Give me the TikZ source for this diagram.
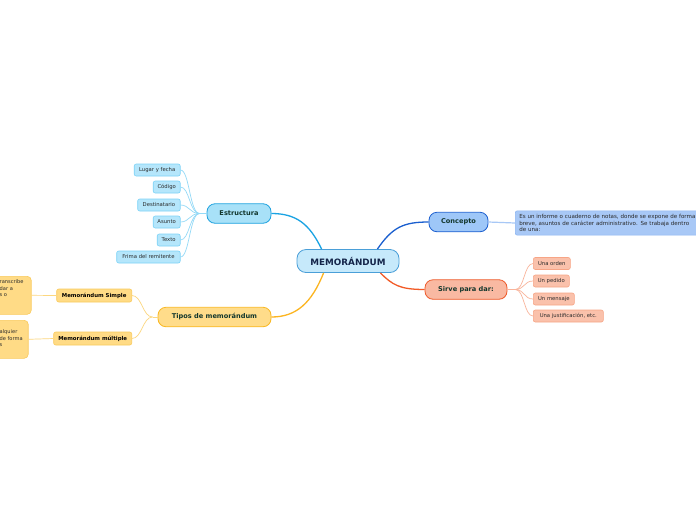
\documentclass[tikz,border=0pt]{standalone}
\usepackage{fontspec}
\setmainfont{DejaVu Sans}
\definecolor{mainfill}{HTML}{C6E9FB}
\definecolor{mainborder}{HTML}{4A9FD8}
\definecolor{maintext}{HTML}{14254A}
\definecolor{topictext}{HTML}{12362C}
\definecolor{childtext}{HTML}{2A2A2A}
\definecolor{estfill}{HTML}{A8E1F8}
\definecolor{estborder}{HTML}{1EA2DF}
\definecolor{estline}{HTML}{1AA3E3}
\definecolor{estcfill}{HTML}{B5E6FB}
\definecolor{estcborder}{HTML}{7DD3F7}
\definecolor{estcline}{HTML}{94DAF7}
\definecolor{concfill}{HTML}{9EC7F8}
\definecolor{concborder}{HTML}{1D60D0}
\definecolor{concline}{HTML}{1A5FCF}
\definecolor{cnotefill}{HTML}{A8C8F6}
\definecolor{cnoteborder}{HTML}{8DB6F2}
\definecolor{sirfill}{HTML}{F9B9A2}
\definecolor{sirborder}{HTML}{EE5A2A}
\definecolor{sirline}{HTML}{F25A26}
\definecolor{sircfill}{HTML}{FAC1AB}
\definecolor{sircborder}{HTML}{F7A586}
\definecolor{sircline}{HTML}{F9B49B}
\definecolor{tipfill}{HTML}{FFDC8A}
\definecolor{tipborder}{HTML}{F9B822}
\definecolor{tipline}{HTML}{FCB520}
\definecolor{tipcfill}{HTML}{FFDB86}
\definecolor{tipcborder}{HTML}{F9CA5C}
\definecolor{tipcline}{HTML}{FCD77F}
\begin{document}
\begin{tikzpicture}[x=1pt,y=-1pt,
  mainbox/.style={draw=mainborder, fill=mainfill, rounded corners=9pt, line width=0.8pt,
    minimum width=102pt, minimum height=23pt, inner sep=0pt, text=maintext,
    font=\bfseries\fontsize{8.8}{10}\selectfont},
  topic/.style={rounded corners=8pt, line width=0.8pt, inner sep=0pt, minimum height=19.5pt,
    text=topictext, font=\bfseries\fontsize{6.6}{8}\selectfont},
  childbox/.style={rounded corners=2pt, line width=0.6pt, inner sep=0pt, minimum height=12pt,
    text=childtext, font=\fontsize{5.3}{6}\selectfont, anchor=east},
  estc/.style={childbox, fill=estcfill, draw=estcborder},
  sirc/.style={childbox, fill=sircfill, draw=sircborder, anchor=west},
  tipc/.style={childbox, fill=tipcfill, draw=tipcborder, minimum height=13pt,
    font=\bfseries\fontsize{5.4}{6}\selectfont, text=black},
  notetext/.style={inner sep=0pt, align=left, text=childtext,
    font=\fontsize{5.1}{6.6}\selectfont},
  bigline/.style={line width=1.3pt},
  smallline/.style={line width=0.7pt}
]
\useasboundingbox (0,0) rectangle (696,520);
\clip (0,0) rectangle (696,520);
\fill[white] (0,0) rectangle (696,520);

% central
\node[mainbox] (main) at (348,261) {MEMORÁNDUM};

% topics
\node[topic, fill=estfill, draw=estborder, minimum width=64pt] (est) at (239,213.5) {Estructura};
\node[topic, fill=concfill, draw=concborder, minimum width=59pt] (conc) at (458.5,222) {Concepto};
\node[topic, fill=sirfill, draw=sirborder, minimum width=82pt] (sir) at (466,289.5) {Sirve para dar:};
\node[topic, fill=tipfill, draw=tipborder, minimum width=113pt] (tip) at (214.5,317) {Tipos de memorándum};

% main connectors
\draw[bigline, estline] ([xshift=25pt]main.north west) .. controls +(-12,-25) and +(25,0) .. (est.east);
\draw[bigline, concline] ([xshift=-22pt]main.north east) .. controls +(15,-22) and +(-25,0) .. (conc.west);
\draw[bigline, sirline] ([xshift=-19pt]main.south east) .. controls +(12,12) and +(-25,0) .. (sir.west);
\draw[bigline, tipline] ([xshift=27pt]main.south west) .. controls +(-12,30) and +(25,0) .. (tip.east);

% Estructura children
\node[estc, minimum width=46pt] (e1) at (180.5,170) {Lugar y fecha};
\node[estc, minimum width=27pt] (e2) at (180.5,187) {Código};
\node[estc, minimum width=42.5pt] (e3) at (180.5,205) {Destinatario};
\node[estc, minimum width=27pt] (e4) at (180.5,222) {Asunto};
\node[estc, minimum width=23pt] (e5) at (180.5,240) {Texto};
\node[estc, minimum width=63.5pt] (e6) at (180.5,257) {Frima del remitente};
\coordinate (ej) at ([xshift=-7pt]est.west);
\draw[smallline, estcline] (est.west) -- (ej);
\foreach \c in {e1,e2,e3,e4,e5,e6}
  \draw[smallline, estcline] (ej) .. controls +(-10,0) and +(9,0) .. (\c.east);

% Concepto note
\node[notetext, fill=cnotefill, draw=cnoteborder, line width=0.6pt, rounded corners=2pt,
  font=\fontsize{5.55}{6.5}\selectfont,
  anchor=west, inner xsep=4pt, inner ysep=3.5pt, minimum height=24pt, text width=200pt] (cnote) at (515,223)
  {Es un informe o cuaderno de notas, donde se expone de forma\\breve, asuntos de carácter administrativo. Se trabaja dentro\\de una:};
\draw[line width=1.2pt, cnotefill] (conc.east) -- (cnote.west);

% Sirve children
\node[sirc, minimum width=37pt] (s1) at (533,263.5) {Una orden};
\node[sirc, minimum width=36pt] (s2) at (533,281) {Un pedido};
\node[sirc, minimum width=41pt] (s3) at (533,299) {Un mensaje};
\node[sirc, minimum width=70pt] (s4) at (533,316) {Una justificación, etc.};
\coordinate (sj) at ([xshift=8pt]sir.east);
\draw[smallline, sircline] (sir.east) -- (sj);
\foreach \c in {s1,s2,s3,s4}
  \draw[smallline, sircline] (sj) .. controls +(9,0) and +(-9,0) .. (\c.west);

% Tipos children
\node[tipc, minimum width=75pt] (t1) at (132,295.5) {Memorándum Simple};
\node[tipc, minimum width=78pt] (t2) at (132,338.5) {Memorándum múltiple};
\coordinate (tj) at ([xshift=-5pt]tip.west);
\draw[smallline, tipcline] (tip.west) -- (tj);
\foreach \c in {t1,t2}
  \draw[smallline, tipcline] (tj) .. controls +(-10,0) and +(10,0) .. (\c.east);

% Tipos notes (cut at left edge)
\node[fill=tipcfill, draw=tipcborder, line width=0.6pt, rounded corners=4pt, inner sep=0pt,
  minimum width=80pt, minimum height=38pt, anchor=north east] (n1) at (31.5,276) {};
\node[fill=tipcfill, draw=tipcborder, line width=0.6pt, rounded corners=4pt, inner sep=0pt,
  minimum width=80pt, minimum height=38pt, anchor=north east] (n2) at (28.5,320) {};
\node[notetext, anchor=north west] (n1t) at (-0.5,279.5) {ranscribe\\dar a\\s o};
\node[notetext, anchor=north west] (n2t) at (-0.5,329.5) {alquier\\de forma\\s};
\draw[smallline, tipcline] (t1.west) -- (n1.east);
\draw[smallline, tipcline] (t2.west) -- (n2.east);
\end{tikzpicture}
\end{document}
